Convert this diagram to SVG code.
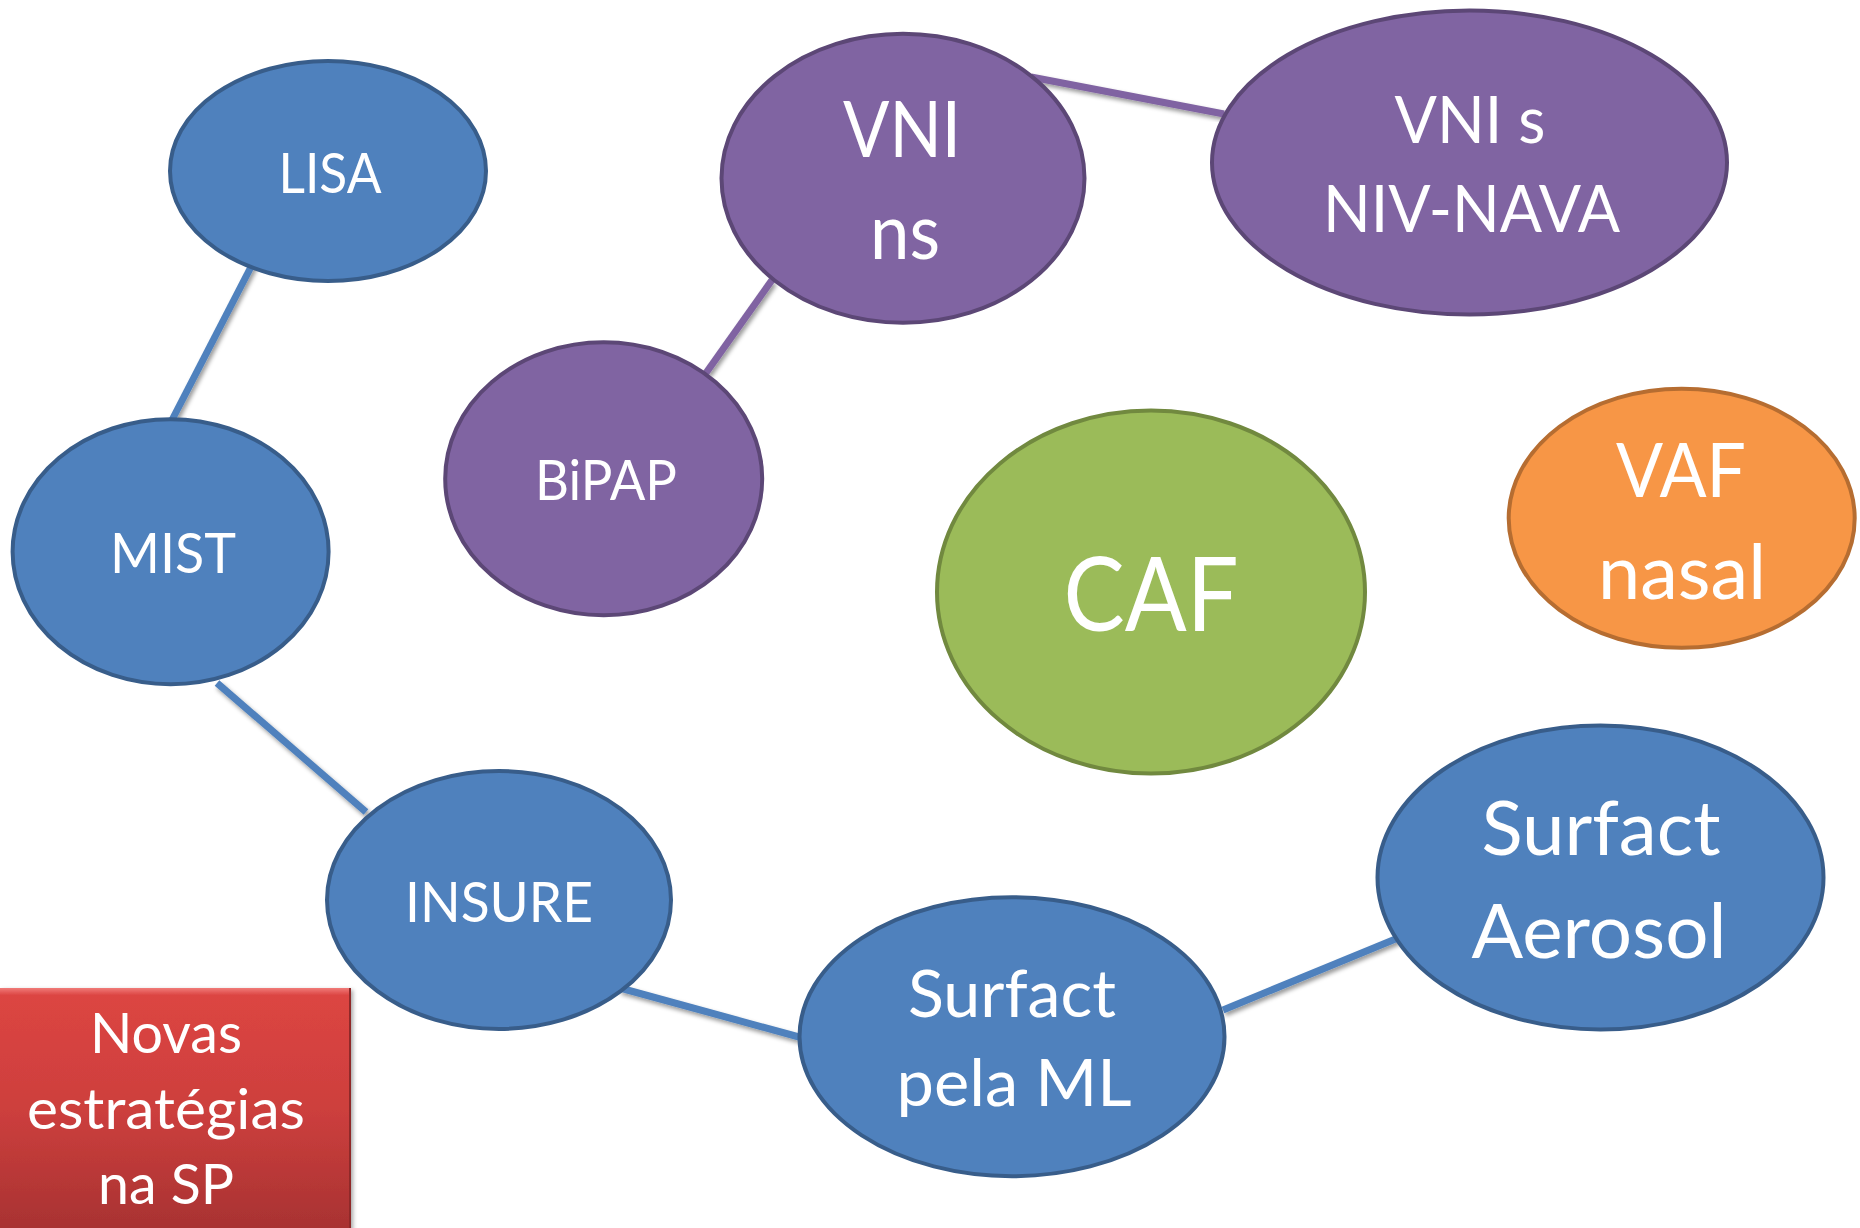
<svg xmlns="http://www.w3.org/2000/svg" width="1860" height="1228" viewBox="0 0 1860 1228">
  <defs>
    <filter id="lineShadow" x="-20%" y="-20%" width="140%" height="140%">
      <feDropShadow dx="2" dy="3" stdDeviation="2" flood-color="#000" flood-opacity="0.4"/>
    </filter>
    <filter id="boxShadow" x="-10%" y="-10%" width="120%" height="120%">
      <feDropShadow dx="2" dy="2" stdDeviation="2" flood-color="#000" flood-opacity="0.35"/>
    </filter>
    <linearGradient id="redFill" x1="0" y1="0" x2="0" y2="1">
      <stop offset="0" stop-color="#f07a78"/>
      <stop offset="0.03" stop-color="#dc4542"/>
      <stop offset="0.5" stop-color="#cd3f3d"/>
      <stop offset="1" stop-color="#a83232"/>
    </linearGradient>
    <style>
      .blue { fill: #4f81bd; stroke: #385d8a; stroke-width: 4; }
      .purple { fill: #8064a2; stroke: #5c4776; stroke-width: 4; }
      .green { fill: #9bbb59; stroke: #71893f; stroke-width: 4; }
      .orange { fill: #f79646; stroke: #b66d31; stroke-width: 4; }
      .label { fill: #ffffff; font-family: Lato, "Open Sans", "Liberation Sans", sans-serif; text-anchor: middle; }
      .link { stroke-width: 7; fill: none; filter: url(#lineShadow); }
      .link-blue { stroke: #4f81bd; }
      .link-purple { stroke: #8064a2; }
    </style>
  </defs>

  <rect width="1860" height="1228" fill="#ffffff"/>

  <!-- connectors -->
  <g id="connectors">
    <line class="link link-blue" x1="253" y1="263" x2="172" y2="420"/>
    <line class="link link-blue" x1="217" y1="683" x2="366" y2="812"/>
    <line class="link link-blue" x1="620" y1="988" x2="799" y2="1037"/>
    <line class="link link-blue" x1="1223" y1="1010" x2="1398" y2="938"/>
    <line class="link link-purple" x1="772" y1="280" x2="706" y2="373"/>
    <line class="link link-purple" x1="1031" y1="77" x2="1224" y2="114"/>
  </g>

  <g id="node-lisa">
    <ellipse class="blue" cx="328" cy="171" rx="158" ry="110"/>
    <text class="label" x="330" y="192.7" font-size="56" textLength="103" lengthAdjust="spacingAndGlyphs">LISA</text>
  </g>

  <g id="node-mist">
    <ellipse class="blue" cx="170.6" cy="551.7" rx="158" ry="132.5"/>
    <text class="label" x="173" y="573.3" font-size="56" textLength="126" lengthAdjust="spacingAndGlyphs">MIST</text>
  </g>

  <g id="node-insure">
    <ellipse class="blue" cx="499" cy="900" rx="172" ry="129"/>
    <text class="label" x="499" y="922.3" font-size="56" textLength="188" lengthAdjust="spacingAndGlyphs">INSURE</text>
  </g>

  <g id="node-surfact-ml">
    <ellipse class="blue" cx="1012" cy="1036.7" rx="212.5" ry="139.5"/>
    <text class="label" x="1012" y="1016.7" font-size="65" textLength="208" lengthAdjust="spacingAndGlyphs">Surfact</text>
    <text class="label" x="1014" y="1106" font-size="65" textLength="235" lengthAdjust="spacingAndGlyphs">pela ML</text>
  </g>

  <g id="node-surfact-aerosol">
    <ellipse class="blue" cx="1600.5" cy="877.5" rx="223" ry="152"/>
    <text class="label" x="1601" y="855" font-size="75" textLength="239" lengthAdjust="spacingAndGlyphs">Surfact</text>
    <text class="label" x="1599" y="958.3" font-size="75" textLength="255" lengthAdjust="spacingAndGlyphs">Aerosol</text>
  </g>

  <g id="node-bipap">
    <ellipse class="purple" cx="603.7" cy="478.8" rx="158.5" ry="136.5"/>
    <text class="label" x="606" y="500" font-size="56" textLength="142" lengthAdjust="spacingAndGlyphs">BiPAP</text>
  </g>

  <g id="node-vni-ns">
    <ellipse class="purple" cx="903" cy="178.3" rx="181.5" ry="144.5"/>
    <text class="label" x="902" y="156.7" font-size="77" textLength="118" lengthAdjust="spacingAndGlyphs">VNI</text>
    <text class="label" x="905" y="259" font-size="77" textLength="70" lengthAdjust="spacingAndGlyphs">ns</text>
  </g>

  <g id="node-vni-s">
    <ellipse class="purple" cx="1469.5" cy="162.5" rx="257.5" ry="152"/>
    <text class="label" x="1470" y="143.3" font-size="65" textLength="151" lengthAdjust="spacingAndGlyphs">VNI s</text>
    <text class="label" x="1471.5" y="231.7" font-size="65" textLength="297" lengthAdjust="spacingAndGlyphs">NIV-NAVA</text>
  </g>

  <g id="node-caf">
    <ellipse class="green" cx="1151" cy="592" rx="214" ry="181.5"/>
    <text class="label" x="1151" y="630.7" font-size="103" textLength="175" lengthAdjust="spacingAndGlyphs">CAF</text>
  </g>

  <g id="node-vaf">
    <ellipse class="orange" cx="1681.7" cy="518.3" rx="173" ry="129.5"/>
    <text class="label" x="1681" y="496.7" font-size="75" textLength="130" lengthAdjust="spacingAndGlyphs">VAF</text>
    <text class="label" x="1682" y="599" font-size="75" textLength="168" lengthAdjust="spacingAndGlyphs">nasal</text>
  </g>

  <g id="title-box">
    <rect x="0" y="988" width="351" height="242" fill="url(#redFill)" filter="url(#boxShadow)"/>
    <line x1="350" y1="988" x2="350" y2="1228" stroke="#8f2929" stroke-width="2"/>
    <text class="label" x="166" y="1053" font-size="57" textLength="152" lengthAdjust="spacingAndGlyphs">Novas</text>
    <text class="label" x="166" y="1129" font-size="57" textLength="278" lengthAdjust="spacingAndGlyphs">estratégias</text>
    <text class="label" x="166" y="1204" font-size="57" textLength="136" lengthAdjust="spacingAndGlyphs">na SP</text>
  </g>
</svg>
